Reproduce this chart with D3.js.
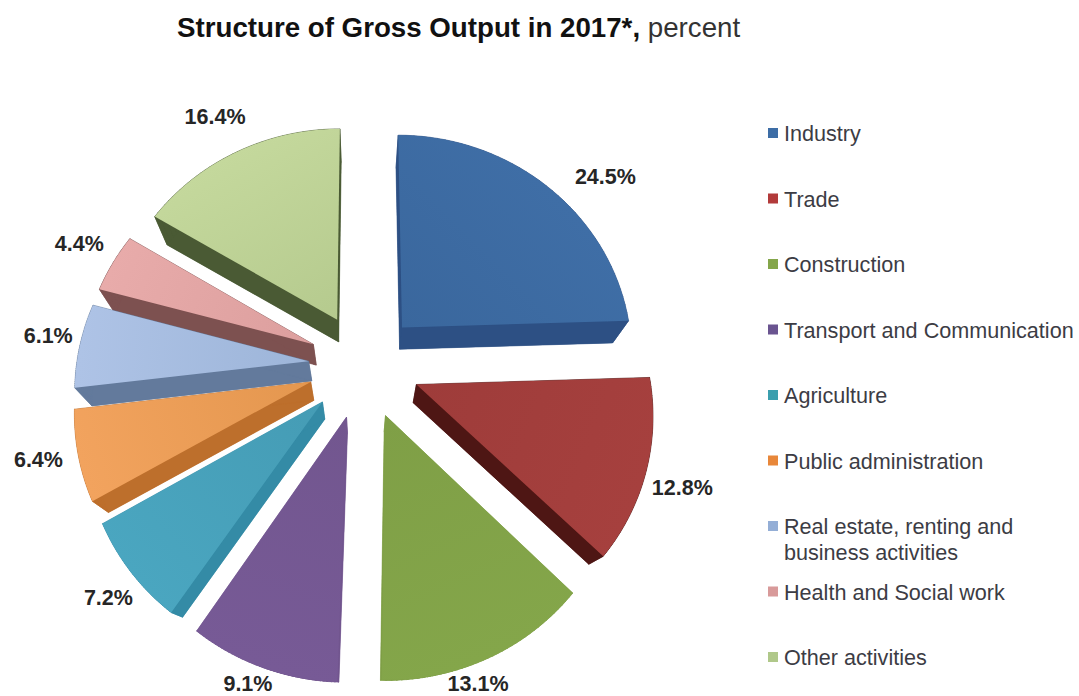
<!DOCTYPE html>
<html>
<head>
<meta charset="utf-8">
<script src="https://cdnjs.cloudflare.com/ajax/libs/d3/7.8.5/d3.min.js"></script>
<style>
  html, body { margin: 0; padding: 0; background: #fff; }
  text { font-family: "Liberation Sans", Arial, sans-serif; }
</style>
</head>
<body>
<svg id="chart" width="1079" height="696"></svg>
<script>
// Structure of gross output, share of each activity in percent
const categories = ["Industry", "Trade", "Construction", "Transport and Communication", "Agriculture",
  "Public administration", "Real estate, renting and business activities", "Health and Social work", "Other activities"];
const shares = [24.5, 12.8, 13.1, 9.1, 7.2, 6.4, 6.1, 4.4, 16.4];
const topColors = ["#3f6ea6", "#a6403e", "#84a64a", "#775a96", "#4aa6c0", "#f2a35e", "#aec3e6", "#e8abaa", "#c4d89c"];
const innerColors = ["#3a679d", "#9e3c3a", "#7f9f46", "#72568f", "#459cb5", "#e4974f", "#9db5d9", "#dc9f9e", "#b5ca8e"];
const sideColors = ["#2d5084", "#4e1614", "#7f9f46", "#72568f", "#348ba6", "#bd6f2c", "#637a9c", "#7d5150", "#4a5a34"];
const legendRows = [["Industry"], ["Trade"], ["Construction"], ["Transport and Communication"], ["Agriculture"],
  ["Public administration"], ["Real estate, renting and", "business activities"], ["Health and Social work"], ["Other activities"]];
const legendMarkers = ["#3d6da6", "#b23a3a", "#84a64a", "#6a5490", "#3b9fae", "#e8873a", "#94aed6", "#d89a9a", "#b0c88a"];
// Nudges that keep each value label clear of its slice
const labelNudge = [[41, 10], [2, 5], [-27, -13], [-1, -24], [7, 0], [-6, -6], [0, -7], [-7, -8], [-10, -13]];

const svg = d3.select("#chart");
const defs = svg.append("defs");

// Perspective view of the tilted disc
const cx = 364, cy = 365, rx = 232, ry = 222, persp = 0.113;
const explode = 0.24;
// Extrusion runs from each top-face point towards a vanishing point
const vanish = [362, 690], depth = 0.06;

const project = (u, v) => {
  const w = 1 + persp * v;
  return [cx + u * rx / w, cy - v * ry / w];
};
const extrude = p => [p[0] + depth * (vanish[0] - p[0]), p[1] + depth * (vanish[1] - p[1])];

const pie = d3.pie().sort(null).value(d => d)(shares);
const path = d3.line();

const slices = pie.map((s, i) => {
  const mid = (s.startAngle + s.endAngle) / 2;
  const ox = explode * Math.sin(mid), oy = explode * Math.cos(mid);
  const angles = d3.range(41).map(t => s.startAngle + (s.endAngle - s.startAngle) * t / 40);
  const outline = [project(ox, oy)].concat(angles.map(a => project(ox + Math.sin(a), oy + Math.cos(a))));
  return { i, mid, ox, oy, outline, lower: outline.map(extrude) };
});

// Far slices first so nearer ones sit on top of their sides
const drawOrder = [8, 7, 6, 0, 5, 4, 1, 3, 2];
const pieGroup = svg.append("g");
drawOrder.forEach(i => {
  const s = slices[i];
  const g = pieGroup.append("g");
  const n = s.outline.length;
  g.append("path").attr("d", path(s.lower) + "Z").attr("fill", sideColors[i]);
  d3.range(n).forEach(k => {
    const j = (k + 1) % n;
    g.append("path")
      .attr("d", path([s.outline[k], s.outline[j], s.lower[j], s.lower[k]]) + "Z")
      .attr("fill", sideColors[i]).attr("stroke", sideColors[i]).attr("stroke-width", 0.6);
  });
  const outer = project(s.ox + Math.sin(s.mid), s.oy + Math.cos(s.mid));
  const grad = defs.append("linearGradient").attr("id", "face" + i)
    .attr("gradientUnits", "userSpaceOnUse")
    .attr("x1", s.outline[0][0]).attr("y1", s.outline[0][1])
    .attr("x2", outer[0]).attr("y2", outer[1]);
  grad.append("stop").attr("offset", "0%").attr("stop-color", innerColors[i]);
  grad.append("stop").attr("offset", "100%").attr("stop-color", topColors[i]);
  g.append("path").attr("d", path(s.outline) + "Z").attr("fill", `url(#face${i})`);
});

// Value labels, placed just past each slice's outer edge
const labelReach = 1.14;
svg.append("g").selectAll("text").data(slices).join("text")
  .attr("x", s => project(s.ox + labelReach * Math.sin(s.mid), s.oy + labelReach * Math.cos(s.mid))[0] + labelNudge[s.i][0])
  .attr("y", s => project(s.ox + labelReach * Math.sin(s.mid), s.oy + labelReach * Math.cos(s.mid))[1] + labelNudge[s.i][1])
  .attr("text-anchor", "middle").attr("dominant-baseline", "central")
  .attr("font-size", 21.5).attr("font-weight", "bold").attr("fill", "#262626")
  .text(s => shares[s.i].toFixed(1) + "%");

// Legend
const legendY = d3.scaleLinear().domain([0, 8]).range([133, 657]);
const legend = svg.append("g").selectAll("g").data(legendRows).join("g")
  .attr("transform", (d, i) => `translate(768,${legendY(i)})`);
legend.append("rect").attr("x", 0).attr("y", -5).attr("width", 10).attr("height", 10)
  .attr("fill", (d, i) => legendMarkers[i]);
legend.each(function (rows) {
  const t = d3.select(this).append("text").attr("x", 16).attr("y", 0)
    .attr("font-size", 21.6).attr("fill", "#3c3c44").attr("dominant-baseline", "central");
  rows.forEach((r, k) => t.append("tspan").attr("x", 16).attr("dy", k ? 26 : 0).text(r));
});

// Title
const title = svg.append("text").attr("x", 177).attr("y", 37).attr("font-size", 27.7).attr("fill", "#111");
title.append("tspan").attr("font-weight", "bold").text("Structure of Gross Output in 2017*,");
title.append("tspan").attr("fill", "#333").text(" percent");
</script>
</body>
</html>
